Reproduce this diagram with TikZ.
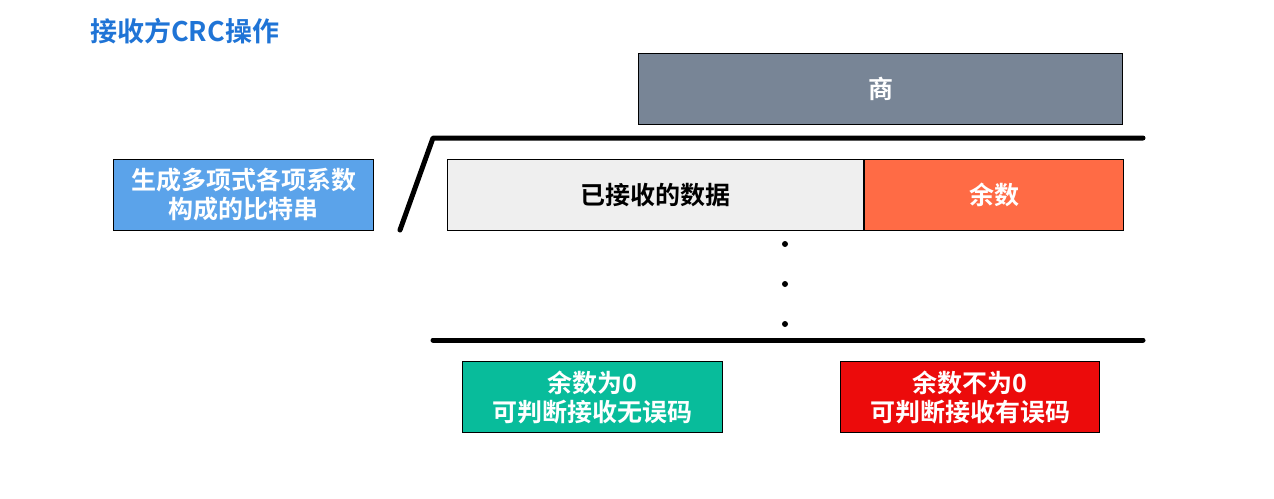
\documentclass[tikz,border=0pt]{standalone}
\usepackage{fontspec}
\setmainfont{Noto Sans CJK SC}[BoldFont={* Bold}]
\usetikzlibrary{positioning}
\definecolor{TitleBlue}{HTML}{1F74D6}
\definecolor{SlateGrey}{HTML}{788596}
\definecolor{PaleGrey}{HTML}{EFEFEF}
\definecolor{Coral}{HTML}{FF6B45}
\definecolor{SkyBlue}{HTML}{5BA3EA}
\definecolor{Jade}{HTML}{08BC9B}
\definecolor{SignalRed}{HTML}{EC0B0B}
\tikzset{
  % Coloured block with bold white text
  blk/.style={
    rectangle, draw=black, line width=1pt, fill=#1,
    minimum height=71pt, inner sep=0pt,
    align=center, text=white,
    font=\fontsize{25}{29}\selectfont\bfseries
  },
  % Division bracket
  bar/.style={line width=5pt, line cap=round, line join=round}
}
\begin{document}
\begin{tikzpicture}[x=1pt, y=-1pt]
  \useasboundingbox (0,0) rectangle (1274,498);
  \node[anchor=west, text=TitleBlue, inner sep=0pt,
        font=\fontsize{27}{30}\selectfont\bfseries] (title) at (90,31) {接收方CRC操作};

  \node[blk=SlateGrey, minimum width=484pt, anchor=north west] (quot) at (638,53) {商};
  \node[blk=PaleGrey, text=black, minimum width=416pt, anchor=north west] (data) at (447,159) {已接收的数据};
  \node[blk=Coral, minimum width=259pt, right=0pt of data] (rem) {余数};
  \node[blk=SkyBlue, minimum width=260pt, anchor=north west] (poly) at (113,159) {生成多项式各项系数\\构成的比特串};
  \node[blk=Jade, minimum width=260pt, anchor=north west] (ok) at (462,361) {余数为0\\可判断接收无误码};
  \node[blk=SignalRed, minimum width=259pt, anchor=north west] (err) at (840,361) {余数不为0\\可判断接收有误码};

  \coordinate (foot) at (400,230);
  \coordinate (knee) at (433,138);
  \coordinate (tip)  at (1143,138);
  \coordinate (lo)   at (433,340);
  \coordinate (hi)   at (1143,340);
  \draw[bar] (foot) -- (knee) -- (tip);
  \draw[bar] (lo) -- (hi);

  \foreach \y in {244,284,324}
    \fill (785,\y) circle (3pt);
\end{tikzpicture}
\end{document}
